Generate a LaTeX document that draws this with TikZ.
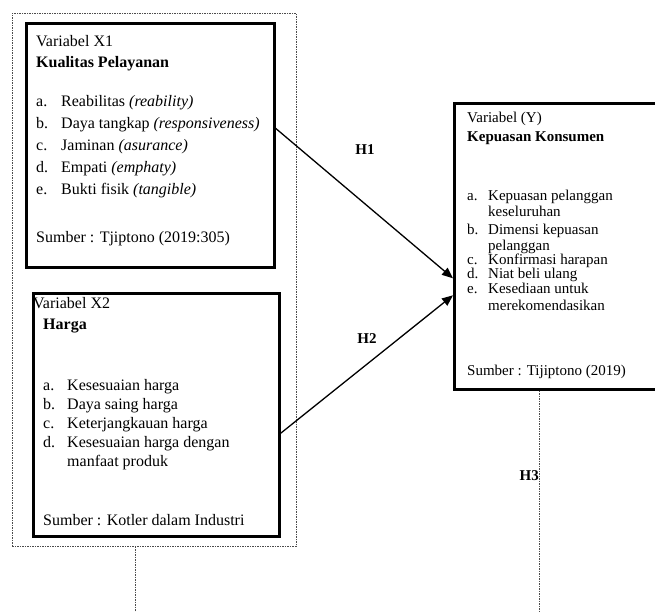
\documentclass[tikz,border=0pt]{standalone}
\usepackage{fontspec}
\setmainfont{Liberation Serif}
\usetikzlibrary{arrows.meta}
\tikzset{
  varbox/.style={draw=black, line width=2.6pt, rectangle, inner sep=0pt, anchor=north west},
  outerbox/.style={draw=black!70, line width=0.7pt, dash pattern=on 1.5pt off 1pt, rectangle, inner sep=0pt, anchor=north west},
  dline/.style={draw=black!70, line width=0.7pt, dash pattern=on 1.5pt off 1pt},
  arr/.style={draw=black, line width=1.3pt, -{Triangle[length=11pt,width=9pt]}},
  txt/.style={anchor=base west, inner sep=0pt, font=\fontsize{16}{19}\selectfont},
  txty/.style={anchor=base west, inner sep=0pt, font=\fontsize{15}{18}\selectfont},
  hlab/.style={inner sep=0pt, font=\fontsize{15}{18}\selectfont\bfseries},
}
\begin{document}
\begin{tikzpicture}[x=1pt,y=-1pt]
\useasboundingbox (0,0) rectangle (655,612);
% boxes
\node[outerbox, minimum width=284pt, minimum height=533pt] (outer) at (12,13) {};
\node[varbox, minimum width=248pt, minimum height=244pt] (x1) at (25,22) {};
\node[varbox, minimum width=246pt, minimum height=243pt] (x2) at (32,292) {};
\node[varbox, minimum width=202pt, minimum height=286pt] (y) at (453,102) {};
% X1 text
\node[txt] (x1a) at (36,47) {Variabel X1};
\node[txt] (x1b) at (36,68) {\bfseries Kualitas Pelayanan};
\node[txt] (x1c) at (36,107) {a.};
\node[txt] (x1d) at (61,107) {Reabilitas \textit{(reability)}};
\node[txt] (x1e) at (36,129) {b.};
\node[txt] (x1f) at (61,129) {Daya tangkap \textit{(responsiveness)}};
\node[txt] (x1g) at (36,151) {c.};
\node[txt] (x1h) at (61,151) {Jaminan \textit{(asurance)}};
\node[txt] (x1i) at (36,173) {d.};
\node[txt] (x1j) at (61,173) {Empati \textit{(emphaty)}};
\node[txt] (x1k) at (36,195) {e.};
\node[txt] (x1l) at (61,195) {Bukti fisik \textit{(tangible)}};
\node[txt] (x1m) at (36,242) {Sumber : Tjiptono (2019:305)};
% X2 text
\node[txt] (x2a) at (33,308) {Variabel X2};
\node[txt] (x2b) at (43,329) {\bfseries Harga};
\node[txt] (x2c) at (43,390) {a.};
\node[txt] (x2d) at (67,390) {Kesesuaian harga};
\node[txt] (x2e) at (43,409) {b.};
\node[txt] (x2f) at (67,409) {Daya saing harga};
\node[txt] (x2g) at (43,428) {c.};
\node[txt] (x2h) at (67,428) {Keterjangkauan harga};
\node[txt] (x2i) at (43,447) {d.};
\node[txt] (x2j) at (67,447) {Kesesuaian harga dengan};
\node[txt] (x2k) at (67,466) {manfaat produk};
\node[txt] (x2l) at (43,525) {Sumber : Kotler dalam Industri};
% Y text
\node[txty] (ya) at (467,123) {Variabel (Y)};
\node[txty] (yb) at (467,142) {\bfseries Kepuasan Konsumen};
\node[txty] (yc) at (467,201) {a.};
\node[txty] (yd) at (488,201) {Kepuasan pelanggan};
\node[txty] (ye) at (488,217) {keseluruhan};
\node[txty] (yf) at (467,234) {b.};
\node[txty] (yg) at (488,234) {Dimensi kepuasan};
\node[txty] (yh) at (488,250) {pelanggan};
\node[txty] (yi) at (467,264) {c.};
\node[txty] (yj) at (488,264) {Konfirmasi harapan};
\node[txty] (yk) at (467,278) {d.};
\node[txty] (yl) at (488,278) {Niat beli ulang};
\node[txty] (ym) at (467,293) {e.};
\node[txty] (yn) at (488,293) {Kesediaan untuk};
\node[txty] (yo) at (488,310) {merekomendasikan};
\node[txty] (yp) at (467,375) {Sumber : Tijiptono (2019)};
% connectors
\draw[arr] ([yshift=17pt]x1.east) -- ([yshift=-32pt]y.west);
\draw[arr] ([yshift=-18.5pt]x2.east) -- ([yshift=-49pt]y.west);
\coordinate (yend) at (539,612);
\coordinate (oend) at (135,612);
\draw[dline] (y.south -| yend) -- (yend);
\draw[dline] (outer.south -| oend) -- (oend);
% labels
\node[hlab] (h1) at (365,150) {H1};
\node[hlab] (h2) at (367,339) {H2};
\node[hlab, anchor=east] (h3) at (539,476) {H3};
\end{tikzpicture}
\end{document}
